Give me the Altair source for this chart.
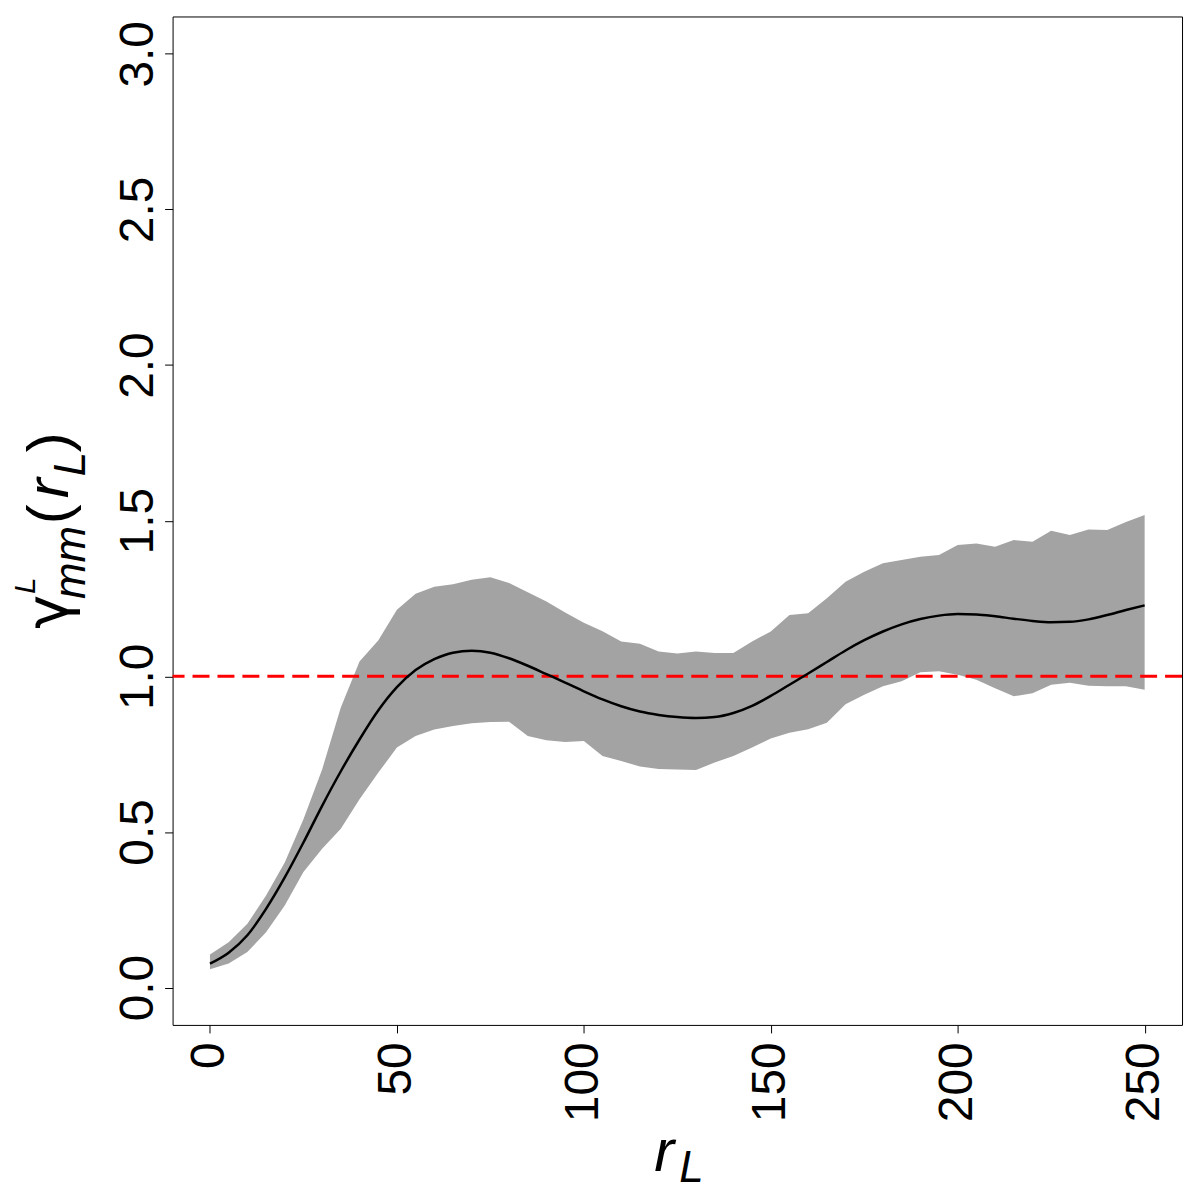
import altair as alt
import pandas as pd

# ---- data ----
r_vals = list(range(0, 251, 5))
mean_vals = [0.077, 0.112, 0.168, 0.253, 0.354, 0.466, 0.584, 0.695, 0.797, 0.890,
             0.965, 1.020, 1.055, 1.076, 1.082, 1.076, 1.058, 1.034, 1.007, 0.980,
             0.952, 0.926, 0.904, 0.887, 0.876, 0.869, 0.866, 0.869, 0.882, 0.905,
             0.937, 0.973, 1.009, 1.046, 1.083, 1.116, 1.144, 1.167, 1.184, 1.195,
             1.200, 1.199, 1.193, 1.185, 1.178, 1.174, 1.175, 1.183, 1.197, 1.213,
             1.228]
upper_vals = [0.106, 0.146, 0.205, 0.296, 0.402, 0.541, 0.701, 0.900, 1.048, 1.115,
              1.214, 1.265, 1.288, 1.296, 1.310, 1.318, 1.300, 1.270, 1.240, 1.205,
              1.172, 1.145, 1.112, 1.105, 1.080, 1.073, 1.080, 1.075, 1.075, 1.112,
              1.144, 1.197, 1.203, 1.251, 1.304, 1.336, 1.363, 1.374, 1.384, 1.390,
              1.422, 1.427, 1.416, 1.438, 1.432, 1.468, 1.454, 1.472, 1.470, 1.496,
              1.518]
lower_vals = [0.059, 0.077, 0.114, 0.178, 0.264, 0.371, 0.446, 0.510, 0.605, 0.690,
              0.771, 0.808, 0.829, 0.840, 0.849, 0.853, 0.854, 0.808, 0.795, 0.789,
              0.792, 0.744, 0.728, 0.710, 0.702, 0.701, 0.699, 0.723, 0.744, 0.771,
              0.800, 0.819, 0.830, 0.851, 0.910, 0.941, 0.968, 0.984, 1.013, 1.016,
              1.005, 0.989, 0.962, 0.936, 0.946, 0.973, 0.979, 0.970, 0.968, 0.968,
              0.957]
ref_level = 1.0
x_ticks = [0, 50, 100, 150, 200, 250]
y_ticks = [0.0, 0.5, 1.0, 1.5, 2.0, 2.5, 3.0]

df = pd.DataFrame({"r": r_vals, "mean": mean_vals, "lo": lower_vals, "hi": upper_vals})
one = pd.DataFrame({"k": [0]})

FONT = "Liberation Sans"

xscale = alt.Scale(domain=[-10, 260], nice=False, zero=False)
yscale = alt.Scale(domain=[-0.12, 3.12], nice=False, zero=False)

band = alt.Chart(df).mark_area(color="#A3A3A3", opacity=1).encode(
    x=alt.X("r:Q", scale=xscale,
            axis=alt.Axis(values=x_ticks, title=None, labelAngle=270, labelAlign="right",
                          labelBaseline="middle", labelPadding=9, labelFontSize=48,
                          labelFont=FONT, tickSize=8, grid=False, domain=False,
                          labelColor="black", tickColor="black", labelOverlap=False)),
    y=alt.Y("lo:Q", scale=yscale,
            axis=alt.Axis(values=y_ticks, format=".1f", title=None, labelAngle=270,
                          labelAlign="center", labelBaseline="alphabetic", labelPadding=12,
                          labelFontSize=48, labelFont=FONT, tickSize=8, grid=False,
                          domain=False, labelColor="black", tickColor="black",
                          labelOverlap=False)),
    y2="hi:Q",
)

rule = alt.Chart(one).mark_rule(color="#FF0000", strokeWidth=3, strokeDash=[17, 8]).encode(
    y=alt.datum(ref_level)
)

line = alt.Chart(df).mark_line(color="black", strokeWidth=2.5, interpolate="monotone").encode(
    x="r:Q", y="mean:Q"
)


def txt(s, x, y, size, italic=False, angle=0, font=FONT):
    kw = dict(text=s, align="left", baseline="alphabetic", fontSize=size, font=font,
              color="black")
    if italic:
        kw["fontStyle"] = "italic"
    if angle:
        kw["angle"] = angle
    return alt.Chart(one).mark_text(**kw).encode(x=alt.value(x), y=alt.value(y))


# page coords minus plot origin (173, 15)
titles = [
    txt("r", 483, 1157, 60, italic=True),
    txt("L", 508, 1168, 44, italic=True),
    txt("γ", -105, 614, 58, angle=270, font="DejaVu Sans"),
    txt("L", -138, 579, 30, italic=True, angle=270),
    txt("mm", -88, 584, 44, italic=True, angle=270),
    txt("(", -104, 509, 60, angle=270),
    txt("r", -105, 483, 60, italic=True, angle=270),
    txt("L", -88, 461, 44, italic=True, angle=270),
    txt(")", -104, 437, 60, angle=270),
]

chart = alt.layer(band, rule, line, *titles).properties(
    width=1012, height=1011,
    padding={"left": 165, "top": 7, "right": 10, "bottom": 165},
    autosize=alt.AutoSizeParams(type="none"),
).configure_view(stroke="black", strokeWidth=1)

chart.save("out.html", embed_options={"renderer": "svg", "actions": False})
